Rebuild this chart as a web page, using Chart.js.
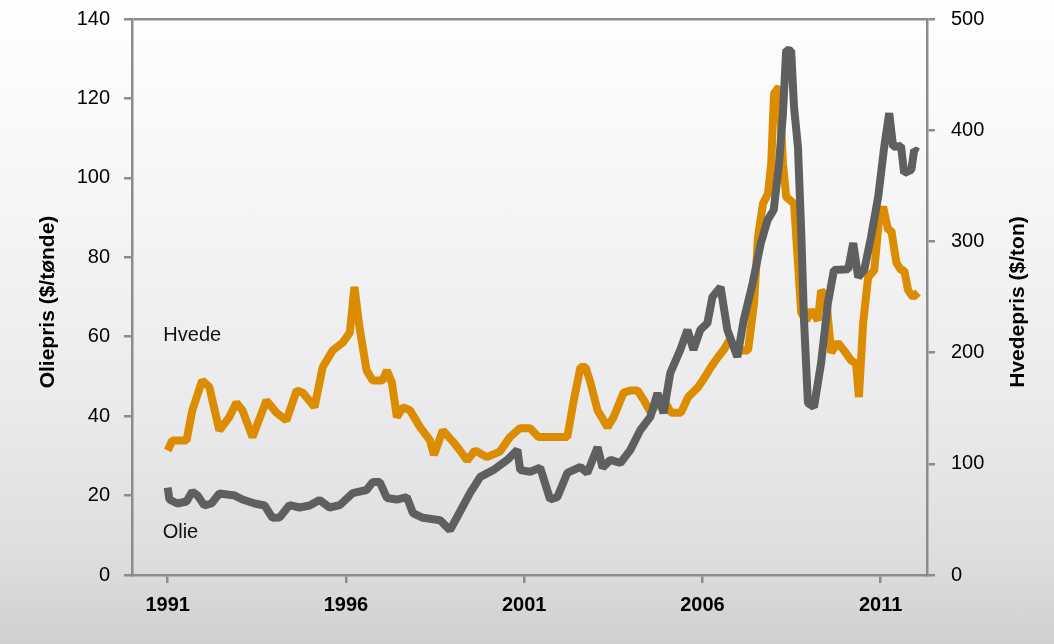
<!DOCTYPE html>
<html>
<head>
<meta charset="utf-8">
<script src="https://cdn.jsdelivr.net/npm/chart.js@4/dist/chart.umd.min.js"></script>
<style>
html, body { margin: 0; padding: 0; }
body {
  width: 1054px; height: 644px; overflow: hidden;
  background: linear-gradient(to bottom, #ffffff 0%, #f6f6f7 30%, #ebebed 62%, #dedfe1 85%, #cfd0d2 100%);
}
#wrap { position: relative; width: 1054px; height: 644px; }
canvas { display: block; }
</style>
</head>
<body>
<div id="wrap"><canvas id="c" width="1054" height="644"></canvas></div>
<script>
// ---- data ----
const oilYears = [1991.0,1991.05,1991.27,1991.53,1991.69,1991.84,1992.03,1992.23,1992.45,1992.88,1993.10,1993.44,1993.72,1993.94,1994.14,1994.42,1994.70,1994.98,1995.26,1995.54,1995.83,1996.19,1996.58,1996.75,1996.95,1997.15,1997.43,1997.71,1997.88,1998.16,1998.64,1998.92,1999.12,1999.48,1999.77,2000.13,2000.53,2000.81,2000.89,2001.17,2001.45,2001.73,2001.93,2002.21,2002.58,2002.77,2003.06,2003.20,2003.42,2003.70,2003.98,2004.26,2004.54,2004.74,2004.91,2005.10,2005.38,2005.58,2005.75,2005.94,2006.14,2006.28,2006.51,2006.70,2006.98,2007.16,2007.41,2007.64,2007.83,2008.00,2008.15,2008.26,2008.35,2008.49,2008.57,2008.68,2008.77,2008.85,2008.96,2009.13,2009.33,2009.52,2009.69,2010.09,2010.23,2010.37,2010.54,2010.73,2010.93,2011.10,2011.24,2011.35,2011.57,2011.66,2011.86,2011.94,2012.05];
const oilPrices = [22,19,18,18.5,21,20,17.5,18,20.5,20,19,18,17.5,14.4,14.5,17.6,17,17.5,18.9,17,17.6,20.6,21.4,23.4,23.4,19.4,19,19.6,15.6,14.4,13.8,11.3,14.6,20.6,24.7,26.4,29,31.5,26.4,26,27,19,19.6,25.7,27.2,25.7,32.2,27,29,28.2,31.5,36.5,39.8,45.8,40.8,50.9,56.7,61.7,56.7,61.7,63.4,70,72.5,61.7,54.9,64.2,73.5,83.6,89.4,91.9,103.7,116.3,132.2,132,117.8,107.8,86.9,64.2,43.3,42.3,53.4,68.5,76.8,77,83.6,75,76.8,85.1,95.2,107.8,116.3,107.8,108,101.2,102,107,106.5];

const wheatYears = [1991.0,1991.13,1991.53,1991.69,1991.97,1992.17,1992.45,1992.73,1992.93,1993.10,1993.38,1993.77,1994.05,1994.33,1994.62,1994.79,1995.12,1995.35,1995.63,1995.91,1996.11,1996.24,1996.38,1996.58,1996.75,1997.03,1997.15,1997.29,1997.43,1997.60,1997.80,1998.08,1998.36,1998.47,1998.72,1999.00,1999.20,1999.40,1999.62,1999.95,2000.32,2000.60,2000.88,2001.17,2001.40,2001.73,2002.21,2002.38,2002.58,2002.72,2002.86,2003.06,2003.34,2003.51,2003.79,2003.99,2004.18,2004.36,2004.55,2004.75,2004.93,2005.12,2005.40,2005.60,2005.88,2006.05,2006.24,2006.44,2006.61,2006.75,2007.00,2007.28,2007.45,2007.56,2007.70,2007.84,2007.93,2008.01,2008.15,2008.26,2008.35,2008.57,2008.68,2008.77,2008.91,2009.05,2009.24,2009.33,2009.47,2009.61,2009.80,2009.97,2010.17,2010.31,2010.39,2010.51,2010.65,2010.82,2010.96,2011.07,2011.21,2011.30,2011.44,2011.57,2011.66,2011.77,2011.91,2012.05];
const wheatPrices = [112,121,121,148,175,169,130,142,155,148,124,157,146,139,166,164,151,187,202,209,218,259,223,184,175,175,184,173,142,151,148,133,121,108,130,120,112,103,112,106,111,124,132,132,124,124,124,155,187,187,173,148,133,142,164,166,166,157,146,155,157,146,146,160,169,177,187,196,203,211,202,202,245,304,334,343,370,433,439,370,340,334,281,236,229,238,229,256,250,200,209,202,193,190,160,227,268,274,322,331,310,310,281,274,274,256,250,254];

const xTickYears = [1991, 1996, 2001, 2006, 2011];
const leftTicks = [0, 20, 40, 60, 80, 100, 120, 140];
const rightTicks = [0, 100, 200, 300, 400, 500];

const seriesNames = ['Olie', 'Hvede'];
const leftTitle = 'Oliepris ($/tønde)';
const rightTitle = 'Hvedepris ($/ton)';

// ---- styling ----
const FONT = '"Liberation Sans", Arial, Helvetica, sans-serif';
const AXIS = '#8c8c8c';
const OIL_COLOR = '#5e6060';
const WHEAT_COLOR = '#dc8c00';

const textPlugin = {
  id: 'textPlugin',
  afterDraw(chart) {
    const ctx = chart.ctx;
    const xs = chart.scales.x, ys = chart.scales.y;
    ctx.save();
    ctx.fillStyle = '#111';
    ctx.textAlign = 'left';
    ctx.textBaseline = 'middle';
    ctx.font = '20px ' + FONT;
    ctx.fillText(seriesNames[1], xs.getPixelForValue(1990.88), ys.getPixelForValue(60.2));
    ctx.fillText(seriesNames[0], xs.getPixelForValue(1990.86), ys.getPixelForValue(10.6));
    ctx.font = 'bold 21px ' + FONT;
    ctx.textAlign = 'center';
    const midY = (chart.chartArea.top + chart.chartArea.bottom) / 2 + 5;
    ctx.fillStyle = '#000';
    ctx.save();
    ctx.translate(48.5, midY);
    ctx.rotate(-Math.PI / 2);
    ctx.fillText(leftTitle, 0, 0);
    ctx.restore();
    ctx.save();
    ctx.translate(1018.5, midY);
    ctx.rotate(-Math.PI / 2);
    ctx.fillText(rightTitle, 0, 0);
    ctx.restore();
    ctx.restore();
  }
};

function fixVertical(width) {
  return s => { s.width = width; s.paddingTop = 0; s.paddingBottom = 0; };
}

new Chart(document.getElementById('c'), {
  type: 'line',
  data: {
    datasets: [
      {
        label: seriesNames[0],
        data: oilYears.map((x, i) => ({ x, y: oilPrices[i] })),
        yAxisID: 'y',
        borderColor: OIL_COLOR,
        borderWidth: 8,
        pointRadius: 0,
        tension: 0,
        borderJoinStyle: 'bevel',
        borderCapStyle: 'butt',
        fill: false
      },
      {
        label: seriesNames[1],
        data: wheatYears.map((x, i) => ({ x, y: wheatPrices[i] })),
        yAxisID: 'y1',
        borderColor: WHEAT_COLOR,
        borderWidth: 8,
        pointRadius: 0,
        tension: 0,
        borderJoinStyle: 'bevel',
        borderCapStyle: 'butt',
        fill: false
      }
    ]
  },
  options: {
    responsive: false,
    animation: false,
    devicePixelRatio: 1,
    layout: { padding: { top: 19, bottom: 0, left: 0, right: 0 } },
    plugins: { legend: { display: false }, tooltip: { enabled: false }, title: { display: false } },
    scales: {
      x: {
        type: 'linear',
        position: 'bottom',
        min: 1990,
        max: 2012.3,
        afterBuildTicks: s => { s.ticks = xTickYears.map(v => ({ value: v })); },
        afterFit: s => { s.height = 69; s.paddingLeft = 0; s.paddingRight = 0; },
        ticks: {
          callback: v => String(v),
          font: { family: FONT, size: 20, weight: 'bold' },
          color: '#000',
          padding: 10,
          maxRotation: 0,
          autoSkip: false
        },
        grid: { drawOnChartArea: false, tickLength: 8, tickColor: AXIS, tickWidth: 2.5, color: AXIS, lineWidth: 2.5 },
        border: { color: AXIS, width: 2.5 }
      },
      y: {
        position: 'left',
        min: 0,
        max: 140,
        afterBuildTicks: s => { s.ticks = leftTicks.map(v => ({ value: v })); },
        afterFit: fixVertical(132),
        ticks: { font: { family: FONT, size: 20 }, color: '#000', padding: 14 },
        grid: {
          drawOnChartArea: true,
          color: c => (c.tick && c.tick.value === 140) ? AXIS : 'rgba(0,0,0,0)',
          lineWidth: 2.5,
          tickLength: 8,
          tickColor: AXIS,
          tickWidth: 2.5
        },
        border: { color: AXIS, width: 2.5 }
      },
      y1: {
        position: 'right',
        min: 0,
        max: 500,
        afterBuildTicks: s => { s.ticks = rightTicks.map(v => ({ value: v })); },
        afterFit: fixVertical(127),
        ticks: { font: { family: FONT, size: 20 }, color: '#000', padding: 16 },
        grid: { drawOnChartArea: false, tickLength: 8, tickColor: AXIS, tickWidth: 2.5, color: AXIS, lineWidth: 2.5 },
        border: { color: AXIS, width: 2.5 }
      }
    }
  },
  plugins: [textPlugin]
});
</script>
</body>
</html>
